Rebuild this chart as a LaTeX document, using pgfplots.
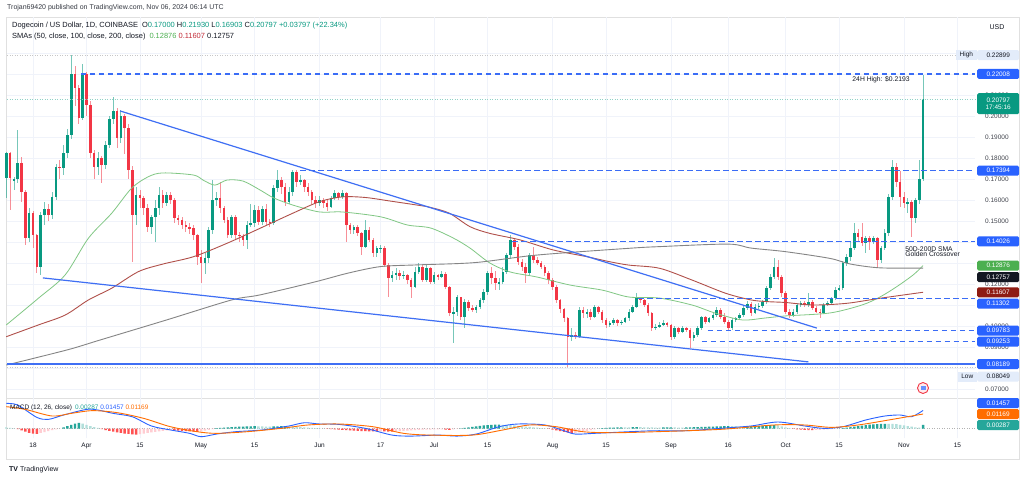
\documentclass[border=0pt]{standalone}
\usepackage{fontspec}
\setmainfont{Liberation Sans}
\usepackage{pgfplots}
\usepackage{pgfplotstable}
\pgfplotsset{compat=1.18}
\definecolor{upc}{HTML}{089981}
\definecolor{dnc}{HTML}{F23645}
\definecolor{smaA}{HTML}{81C784}
\definecolor{smaB}{HTML}{B0504A}
\definecolor{smaC}{HTML}{858585}
\definecolor{boxA}{HTML}{4CAF50}
\definecolor{boxB}{HTML}{8E1B12}
\definecolor{boxC}{HTML}{131722}
\definecolor{tline}{HTML}{3F6FF4}
\definecolor{dline}{HTML}{3A6CF6}
\definecolor{macdb}{HTML}{2962FF}
\definecolor{macdo}{HTML}{FF6D00}
\definecolor{hdg}{HTML}{26A69A}
\definecolor{hlg}{HTML}{B2DFDB}
\definecolor{hdr}{HTML}{FF5252}
\definecolor{hlr}{HTML}{FFCDD2}
\definecolor{tvtext}{HTML}{131722}
\definecolor{gridc}{HTML}{F0F3FA}
\definecolor{pale}{HTML}{E3ECFA}

\pgfplotstableread{
d o h l c hv hc
-7 0.1703 0.1830 0.1608 0.1822 0.0010 2
-6 0.1822 0.1830 0.1552 0.1703 0.0006 2
-5 0.1690 0.1710 0.1650 0.1700 0.0002 2
-4 0.1700 0.1933 0.1680 0.1775 -0.0005 3
-3 0.1775 0.1806 0.1592 0.1640 -0.0015 3
-2 0.1640 0.1650 0.1386 0.1421 -0.0025 3
-1 0.1421 0.1560 0.1400 0.1537 -0.0035 3
0 0.1537 0.1550 0.1370 0.1433 -0.0040 3
1 0.1433 0.1440 0.1251 0.1283 -0.0042 3
2 0.1283 0.1545 0.1243 0.1529 -0.0035 4
3 0.1529 0.1590 0.1480 0.1556 -0.0028 4
4 0.1556 0.1580 0.1500 0.1529 -0.0020 4
5 0.1529 0.1640 0.1510 0.1616 -0.0012 4
6 0.1616 0.1770 0.1600 0.1759 -0.0006 4
7 0.1759 0.1790 0.1700 0.1751 -0.0001 4
8 0.1751 0.1860 0.1720 0.1822 0.0010 1
9 0.1822 0.1940 0.1800 0.1910 0.0020 1
10 0.1910 0.2290 0.1890 0.2198 0.0030 1
11 0.2198 0.2240 0.2050 0.2132 0.0040 1
12 0.2132 0.2150 0.1960 0.1992 0.0045 1
13 0.1992 0.2250 0.1980 0.2198 0.0040 2
14 0.2198 0.2210 0.2000 0.2052 0.0030 2
15 0.2052 0.2070 0.1800 0.1822 0.0020 2
16 0.1822 0.1840 0.1700 0.1759 0.0012 2
17 0.1759 0.1830 0.1720 0.1798 0.0005 2
18 0.1798 0.1810 0.1680 0.1767 -0.0005 3
19 0.1767 0.1880 0.1750 0.1862 -0.0012 3
20 0.1862 0.2000 0.1850 0.1986 -0.0018 3
21 0.1986 0.2092 0.1960 0.2024 -0.0025 3
22 0.2024 0.2040 0.1850 0.1894 -0.0030 3
23 0.1894 0.2030 0.1870 0.2000 -0.0035 3
24 0.2000 0.2010 0.1820 0.1941 -0.0040 3
25 0.1941 0.1960 0.1700 0.1743 -0.0043 3
26 0.1743 0.1760 0.1306 0.1529 -0.0046 3
27 0.1529 0.1660 0.1480 0.1624 -0.0048 3
28 0.1624 0.1650 0.1560 0.1608 -0.0044 4
29 0.1608 0.1620 0.1530 0.1560 -0.0040 4
30 0.1560 0.1580 0.1450 0.1473 -0.0035 4
31 0.1473 0.1530 0.1440 0.1521 -0.0030 4
32 0.1521 0.1600 0.1400 0.1560 -0.0026 4
33 0.1560 0.1660 0.1530 0.1624 -0.0022 4
34 0.1624 0.1650 0.1560 0.1584 -0.0018 4
35 0.1584 0.1640 0.1570 0.1624 -0.0015 4
36 0.1624 0.1640 0.1580 0.1600 -0.0012 4
37 0.1600 0.1610 0.1490 0.1513 -0.0014 3
38 0.1513 0.1530 0.1480 0.1505 -0.0016 3
39 0.1505 0.1520 0.1460 0.1481 -0.0018 3
40 0.1481 0.1500 0.1450 0.1473 -0.0020 3
41 0.1473 0.1490 0.1440 0.1465 -0.0022 3
42 0.1465 0.1480 0.1410 0.1433 -0.0024 3
43 0.1433 0.1440 0.1290 0.1330 -0.0026 3
44 0.1330 0.1360 0.1203 0.1298 -0.0022 4
45 0.1298 0.1350 0.1250 0.1322 -0.0016 4
46 0.1322 0.1470 0.1300 0.1457 -0.0010 4
47 0.1457 0.1695 0.1440 0.1600 -0.0004 4
48 0.1600 0.1640 0.1570 0.1608 0.0003 1
49 0.1608 0.1687 0.1540 0.1560 0.0006 1
50 0.1560 0.1570 0.1490 0.1505 0.0008 1
51 0.1505 0.1520 0.1420 0.1433 0.0010 1
52 0.1433 0.1530 0.1420 0.1521 0.0012 1
53 0.1521 0.1530 0.1410 0.1433 0.0014 1
54 0.1433 0.1450 0.1400 0.1429 0.0015 1
55 0.1429 0.1440 0.1380 0.1410 0.0016 1
56 0.1410 0.1500 0.1365 0.1481 0.0017 1
57 0.1481 0.1580 0.1470 0.1489 0.0018 1
58 0.1489 0.1576 0.1470 0.1553 0.0019 1
59 0.1553 0.1570 0.1480 0.1497 0.0018 2
60 0.1497 0.1570 0.1480 0.1556 0.0017 2
61 0.1556 0.1580 0.1480 0.1497 0.0016 2
62 0.1497 0.1510 0.1470 0.1489 0.0016 2
63 0.1489 0.1670 0.1480 0.1656 0.0017 1
64 0.1656 0.1743 0.1640 0.1695 0.0018 1
65 0.1695 0.1710 0.1630 0.1664 0.0019 1
66 0.1664 0.1680 0.1570 0.1592 0.0020 1
67 0.1592 0.1660 0.1580 0.1640 0.0018 2
68 0.1640 0.1743 0.1620 0.1735 0.0016 2
69 0.1735 0.1743 0.1660 0.1687 0.0014 2
70 0.1687 0.1720 0.1670 0.1695 0.0012 2
71 0.1695 0.1700 0.1640 0.1664 0.0010 2
72 0.1664 0.1680 0.1620 0.1640 0.0008 2
73 0.1640 0.1650 0.1580 0.1600 0.0006 2
74 0.1600 0.1620 0.1560 0.1584 0.0004 2
75 0.1584 0.1620 0.1570 0.1600 0.0002 2
76 0.1600 0.1610 0.1560 0.1584 0.0000 2
77 0.1584 0.1600 0.1550 0.1568 -0.0002 3
78 0.1568 0.1620 0.1560 0.1608 -0.0004 3
79 0.1608 0.1650 0.1600 0.1632 -0.0006 3
80 0.1632 0.1640 0.1600 0.1616 -0.0008 3
81 0.1616 0.1650 0.1605 0.1632 -0.0010 3
82 0.1632 0.1640 0.1402 0.1481 -0.0012 3
83 0.1481 0.1490 0.1440 0.1457 -0.0014 3
84 0.1457 0.1480 0.1440 0.1470 -0.0016 3
85 0.1470 0.1480 0.1430 0.1444 -0.0018 3
86 0.1444 0.1450 0.1338 0.1378 -0.0020 3
87 0.1378 0.1505 0.1370 0.1457 -0.0021 3
88 0.1457 0.1470 0.1400 0.1410 -0.0022 3
89 0.1410 0.1420 0.1330 0.1346 -0.0022 3
90 0.1346 0.1380 0.1330 0.1370 -0.0023 3
91 0.1370 0.1385 0.1350 0.1372 -0.0022 4
92 0.1372 0.1380 0.1280 0.1291 -0.0023 3
93 0.1291 0.1300 0.1140 0.1227 -0.0024 3
94 0.1227 0.1260 0.1210 0.1243 -0.0024 3
95 0.1243 0.1275 0.1220 0.1251 -0.0023 4
96 0.1251 0.1265 0.1220 0.1238 -0.0020 4
97 0.1238 0.1260 0.1225 0.1243 -0.0018 4
98 0.1243 0.1250 0.1200 0.1219 -0.0016 4
99 0.1219 0.1230 0.1132 0.1187 -0.0014 4
100 0.1187 0.1280 0.1180 0.1259 -0.0012 4
101 0.1259 0.1300 0.1250 0.1283 -0.0010 4
102 0.1283 0.1290 0.1210 0.1219 -0.0009 4
103 0.1219 0.1290 0.1210 0.1275 -0.0008 4
104 0.1275 0.1280 0.1200 0.1211 -0.0008 4
105 0.1211 0.1255 0.1200 0.1243 -0.0007 4
106 0.1243 0.1250 0.1220 0.1235 -0.0006 4
107 0.1235 0.1260 0.1230 0.1248 -0.0006 4
108 0.1248 0.1255 0.1175 0.1184 -0.0008 3
109 0.1184 0.1190 0.1050 0.1060 -0.0010 3
110 0.1060 0.1090 0.0918 0.1068 -0.0006 4
111 0.1068 0.1150 0.1050 0.1137 -0.0002 4
112 0.1137 0.1140 0.1030 0.1044 0.0002 1
113 0.1044 0.1130 0.0989 0.1116 0.0006 1
114 0.1116 0.1125 0.1070 0.1084 0.0010 1
115 0.1084 0.1100 0.1065 0.1076 0.0014 1
116 0.1076 0.1100 0.1060 0.1092 0.0018 1
117 0.1092 0.1135 0.1080 0.1124 0.0022 1
118 0.1124 0.1175 0.1110 0.1164 0.0026 1
119 0.1164 0.1260 0.1150 0.1251 0.0028 1
120 0.1251 0.1283 0.1200 0.1227 0.0030 1
121 0.1227 0.1260 0.1170 0.1203 0.0031 1
122 0.1203 0.1230 0.1170 0.1211 0.0031 1
123 0.1211 0.1280 0.1200 0.1259 0.0030 2
124 0.1259 0.1350 0.1250 0.1338 0.0029 2
125 0.1338 0.1433 0.1320 0.1410 0.0028 2
126 0.1410 0.1420 0.1360 0.1378 0.0026 2
127 0.1378 0.1390 0.1290 0.1306 0.0022 2
128 0.1306 0.1320 0.1260 0.1283 0.0018 2
129 0.1283 0.1300 0.1203 0.1251 0.0015 2
130 0.1251 0.1350 0.1240 0.1338 0.0013 2
131 0.1338 0.1378 0.1300 0.1314 0.0010 2
132 0.1314 0.1330 0.1290 0.1302 0.0007 2
133 0.1302 0.1310 0.1270 0.1283 0.0004 2
134 0.1283 0.1290 0.1240 0.1251 0.0001 2
135 0.1251 0.1260 0.1200 0.1219 -0.0003 3
136 0.1219 0.1230 0.1170 0.1187 -0.0008 3
137 0.1187 0.1195 0.1110 0.1124 -0.0014 3
138 0.1124 0.1130 0.1060 0.1079 -0.0020 3
139 0.1079 0.1085 0.1020 0.1037 -0.0026 3
140 0.1037 0.1045 0.0807 0.0949 -0.0032 3
141 0.0949 0.0990 0.0930 0.0957 -0.0038 3
142 0.0957 0.0970 0.0940 0.0949 -0.0036 4
143 0.0949 0.1090 0.0945 0.1076 -0.0030 4
144 0.1076 0.1090 0.1040 0.1060 -0.0024 4
145 0.1060 0.1080 0.1040 0.1068 -0.0018 4
146 0.1068 0.1080 0.1030 0.1045 -0.0012 4
147 0.1045 0.1100 0.1040 0.1089 -0.0006 4
148 0.1089 0.1095 0.1055 0.1068 0.0000 1
149 0.1068 0.1075 0.1015 0.1029 0.0003 1
150 0.1029 0.1040 0.0990 0.1005 0.0005 1
151 0.1005 0.1025 0.0995 0.1013 0.0007 1
152 0.1013 0.1040 0.1005 0.1029 0.0008 1
153 0.1029 0.1035 0.1000 0.1013 0.0009 1
154 0.1013 0.1030 0.1005 0.1021 0.0010 1
155 0.1021 0.1045 0.1015 0.1037 0.0010 2
156 0.1037 0.1080 0.1025 0.1068 0.0010 2
157 0.1068 0.1100 0.1060 0.1092 0.0011 1
158 0.1092 0.1156 0.1085 0.1132 0.0012 1
159 0.1132 0.1140 0.1110 0.1124 0.0011 2
160 0.1124 0.1130 0.1090 0.1100 0.0010 2
161 0.1100 0.1110 0.1050 0.1060 0.0009 2
162 0.1060 0.1065 0.0975 0.0989 0.0009 2
163 0.0989 0.1010 0.0980 0.0997 0.0008 2
164 0.0997 0.1020 0.0990 0.1005 0.0008 2
165 0.1005 0.1030 0.1000 0.1013 0.0009 1
166 0.1013 0.1020 0.0995 0.1005 0.0010 1
167 0.1005 0.1010 0.0935 0.0949 0.0010 1
168 0.0949 0.1000 0.0940 0.0989 0.0009 2
169 0.0989 0.0995 0.0960 0.0973 0.0008 2
170 0.0973 0.1000 0.0965 0.0989 0.0008 2
171 0.0989 0.0995 0.0970 0.0981 0.0009 1
172 0.0981 0.0990 0.0894 0.0941 0.0010 1
173 0.0941 0.0970 0.0930 0.0957 0.0011 1
174 0.0957 0.1000 0.0950 0.0989 0.0012 1
175 0.0989 0.1050 0.0980 0.1041 0.0013 1
176 0.1041 0.1050 0.1010 0.1021 0.0014 1
177 0.1021 0.1045 0.1015 0.1036 0.0015 1
178 0.1036 0.1065 0.1030 0.1052 0.0016 1
179 0.1052 0.1090 0.1045 0.1076 0.0017 1
180 0.1076 0.1085 0.1035 0.1044 0.0018 1
181 0.1044 0.1060 0.1010 0.1021 0.0019 1
182 0.1021 0.1030 0.0980 0.0989 0.0020 1
183 0.0989 0.1040 0.0980 0.1028 0.0020 2
184 0.1028 0.1045 0.1020 0.1036 0.0019 2
185 0.1036 0.1060 0.1030 0.1052 0.0018 2
186 0.1052 0.1095 0.1045 0.1084 0.0018 2
187 0.1084 0.1120 0.1075 0.1105 0.0019 1
188 0.1105 0.1115 0.1050 0.1060 0.0020 1
189 0.1060 0.1105 0.1055 0.1092 0.0021 1
190 0.1092 0.1110 0.1080 0.1095 0.0022 1
191 0.1095 0.1125 0.1085 0.1116 0.0023 1
192 0.1116 0.1190 0.1105 0.1179 0.0025 1
193 0.1179 0.1250 0.1170 0.1235 0.0027 1
194 0.1235 0.1322 0.1225 0.1283 0.0028 1
195 0.1283 0.1315 0.1220 0.1235 0.0025 2
196 0.1235 0.1245 0.1140 0.1156 0.0018 2
197 0.1156 0.1165 0.1055 0.1068 0.0010 2
198 0.1068 0.1080 0.1040 0.1053 0.0004 2
199 0.1053 0.1080 0.1045 0.1068 -0.0002 3
200 0.1068 0.1110 0.1055 0.1100 -0.0006 3
201 0.1100 0.1120 0.1090 0.1108 -0.0009 3
202 0.1108 0.1120 0.1090 0.1100 -0.0011 3
203 0.1100 0.1156 0.1090 0.1116 -0.0012 3
204 0.1116 0.1125 0.1075 0.1084 -0.0012 3
205 0.1084 0.1095 0.1060 0.1068 -0.0011 4
206 0.1068 0.1080 0.1037 0.1061 -0.0010 4
207 0.1061 0.1110 0.1055 0.1100 -0.0008 4
208 0.1100 0.1120 0.1095 0.1108 -0.0006 4
209 0.1108 0.1140 0.1100 0.1132 -0.0004 4
210 0.1132 0.1185 0.1125 0.1172 -0.0002 4
211 0.1172 0.1195 0.1165 0.1180 0.0000 1
212 0.1180 0.1310 0.1170 0.1299 0.0004 1
213 0.1299 0.1345 0.1285 0.1330 0.0008 1
214 0.1330 0.1400 0.1310 0.1370 0.0012 1
215 0.1370 0.1489 0.1360 0.1441 0.0016 1
216 0.1441 0.1460 0.1400 0.1426 0.0020 1
217 0.1426 0.1489 0.1380 0.1394 0.0024 1
218 0.1394 0.1430 0.1350 0.1418 0.0028 1
219 0.1418 0.1430 0.1360 0.1402 0.0031 1
220 0.1402 0.1430 0.1390 0.1418 0.0034 1
221 0.1418 0.1425 0.1283 0.1314 0.0036 1
222 0.1314 0.1380 0.1300 0.1370 0.0037 1
223 0.1370 0.1460 0.1360 0.1441 0.0038 1
224 0.1441 0.1630 0.1430 0.1616 0.0038 2
225 0.1616 0.1791 0.1600 0.1759 0.0037 2
226 0.1759 0.1775 0.1660 0.1687 0.0035 2
227 0.1687 0.1740 0.1568 0.1616 0.0030 2
228 0.1616 0.1640 0.1560 0.1584 0.0025 2
229 0.1584 0.1610 0.1540 0.1592 0.0020 2
230 0.1592 0.1600 0.1426 0.1513 0.0015 2
231 0.1513 0.1610 0.1490 0.1600 0.0010 2
232 0.1600 0.1791 0.1580 0.1700 0.0008 2
233 0.1700 0.2193 0.1690 0.2080 0.0029 1
}\candles

\pgfplotstableread{
d v
-7 0.1005
1.4 0.1132
8.4 0.1243
14.5 0.1418
20.6 0.1537
25.8 0.1656
30.2 0.1711
34 0.1729
42 0.1719
44.5 0.1695
47.6 0.1671
50.8 0.1695
55 0.1690
59.4 0.1648
63 0.1610
68 0.1576
75 0.1543
81 0.1543
91 0.1520
98 0.1481
104 0.1467
110 0.1419
114.4 0.1371
119.6 0.1300
125 0.1257
132 0.1233
140.6 0.1195
149 0.1171
156 0.1138
164 0.1133
172.5 0.1100
178.5 0.1062
185.6 0.1029
191.6 0.1038
197 0.1048
208.6 0.1062
217 0.1100
221.7 0.1138
226 0.1186
230.4 0.1243
233 0.12876
}\smaA

\pgfplotstableread{
d v
-7 0.0949
1.4 0.1005
8.4 0.1052
14.5 0.1124
20.6 0.1180
27.6 0.1259
34 0.1295
42 0.1330
50.8 0.1394
59.4 0.1465
68 0.1537
75 0.1592
81 0.1615
87 0.1612
93.5 0.1595
100.5 0.1576
104 0.1565
109 0.1537
114.4 0.1473
119.6 0.1441
127.5 0.1410
136.2 0.1362
145 0.1330
151 0.1306
156 0.1290
164 0.1275
172.5 0.1219
181.3 0.1156
188 0.1124
192.3 0.1116
197 0.1112
204.2 0.1100
213 0.1108
221.7 0.1132
233 0.11607
}\smaB

\pgfplotstableread{
d v
-7 0.0814
8.9 0.0886
17.5 0.0933
35 0.1029
52 0.1124
59.4 0.1148
73.8 0.1210
82.5 0.1252
91 0.1283
100.5 0.1291
115.7 0.1302
132 0.1338
156 0.1370
164 0.1378
182 0.1390
188 0.1371
197 0.1354
208.6 0.1322
214 0.1295
221.7 0.1277
233 0.12757
}\smaC

\pgfplotstableread{
d v
-7 0.0202
-4 0.0189
1 0.0090
4 0.0074
8 0.0109
14 0.0154
17 0.0149
21 0.0122
26 0.0095
31 0.0021
36 -0.0011
41 -0.0038
44 -0.0065
48 -0.0044
53 -0.0025
60 -0.0011
67 0.0021
71 0.0047
75 0.0037
80 0.0034
87 0.0002
94 -0.0052
99 -0.0060
106 -0.0052
111 -0.0060
116 -0.0044
122 0.0015
127 0.0037
134 0.0029
139 -0.0017
142 -0.0044
147 -0.0038
156 -0.0025
163 -0.0017
171 -0.0017
180 0.0002
188 0.0021
195 0.0053
202 0.0021
207 0.0002
212 0.0015
218 0.0069
223 0.0101
227 0.0109
230 0.0095
233 0.01457
}\macdM

\pgfplotstableread{
d v
-7 0.0176
-2 0.0154
5 0.0101
10 0.0122
15.5 0.0144
22 0.0128
29 0.0082
36 0.0015
43 -0.0025
48 -0.0038
56 -0.0025
65 0.0002
72 0.0029
80 0.0037
89 0.0015
97 -0.0038
104 -0.0052
115 -0.0052
123 -0.0011
130 0.0029
137 0.0015
144 -0.0025
152 -0.0033
163 -0.0025
180 -0.0006
194 0.0029
202 0.0029
209 0.0010
216 0.0029
224 0.0069
233 0.01169
}\macdS

\newcommand{\fs}[1]{\fontsize{#1}{#1}\selectfont}

\begin{document}
\begin{tikzpicture}[x=1bp,y=1bp]
\useasboundingbox (0bp,0bp) rectangle (1024bp,-482bp);
\fill[white] (0bp,0bp) rectangle (1024bp,-482bp);
\draw[draw=black!12, line width=0.6bp] (6bp,-17bp) rectangle (1019bp,-459bp);
\draw[draw=black!12, line width=0.6bp] (6bp,-398bp) -- (1019bp,-398bp);

% ---------------- price pane ----------------
\begin{axis}[
  at={(7bp,-398bp)}, anchor=south west, scale only axis,
  width=968bp, height=381bp,
  xmin=-6.81, xmax=246.6, ymin=0.065714, ymax=0.247143,
  axis line style={draw=none}, tick style={draw=none},
  clip=false,
  xtick={0,14,28,44,58,75,91,105,119,136,150,167,182,197,211,228,242},
  xticklabels={},
  ytick={0.07,0.08,0.09,0.10,0.11,0.12,0.13,0.14,0.15,0.16,0.17,0.18,0.19,0.20,0.21,0.22,0.23},
  yticklabels={0.07000,,0.09000,0.10000,,0.12000,,,0.15000,0.16000,0.17000,0.18000,0.19000,0.20000,0.21000,,},
  grid=major, major grid style={draw=gridc, line width=0.6bp},
  yticklabel pos=right,
  yticklabel style={anchor=west, inner sep=0pt, xshift=10bp, font=\fs{6.5}, text=tvtext!80},
]
% wicks
\addplot[draw=none, forget plot, restrict y to domain=0:1,
  error bars/.cd, y dir=both, y explicit, error mark=none,
  error bar style={draw=upc, draw opacity=0.55, line width=0.8bp}]
  table[x=d, y expr={(\thisrow{c}>=\thisrow{o}) ? 0.5*(\thisrow{h}+\thisrow{l}) : -1},
        y error expr={0.5*(\thisrow{h}-\thisrow{l})}] {\candles};
\addplot[draw=none, forget plot, restrict y to domain=0:1,
  error bars/.cd, y dir=both, y explicit, error mark=none,
  error bar style={draw=dnc, draw opacity=0.55, line width=0.8bp}]
  table[x=d, y expr={(\thisrow{c}<\thisrow{o}) ? 0.5*(\thisrow{h}+\thisrow{l}) : -1},
        y error expr={0.5*(\thisrow{h}-\thisrow{l})}] {\candles};
% bodies
\addplot[draw=none, forget plot, restrict y to domain=0:1,
  error bars/.cd, y dir=both, y explicit, error mark=none,
  error bar style={draw=upc, line width=2.6bp}]
  table[x=d, y expr={(\thisrow{c}>=\thisrow{o}) ? 0.5*(\thisrow{o}+\thisrow{c}) : -1},
        y error expr={max(0.5*abs(\thisrow{c}-\thisrow{o}),0.00012)}] {\candles};
\addplot[draw=none, forget plot, restrict y to domain=0:1,
  error bars/.cd, y dir=both, y explicit, error mark=none,
  error bar style={draw=dnc, line width=2.6bp}]
  table[x=d, y expr={(\thisrow{c}<\thisrow{o}) ? 0.5*(\thisrow{o}+\thisrow{c}) : -1},
        y error expr={max(0.5*abs(\thisrow{c}-\thisrow{o}),0.00012)}] {\candles};
% SMAs
\addplot[smaA, line width=0.8bp, smooth, tension=0.5] table[x=d,y=v] {\smaA};
\addplot[smaB, line width=0.9bp, smooth, tension=0.5] table[x=d,y=v] {\smaB};
\addplot[smaC, line width=0.9bp, smooth, tension=0.5] table[x=d,y=v] {\smaC};
% reference lines
\addplot[black!22, line width=0.4bp, dash pattern=on 1bp off 1.5bp] coordinates {(-6.81,0.22899) (246.6,0.22899)};
\addplot[upc!45, line width=0.4bp, dash pattern=on 1bp off 1.5bp] coordinates {(-6.81,0.20797) (246.6,0.20797)};
\addplot[black!22, line width=0.4bp, dash pattern=on 1bp off 1.5bp] coordinates {(-6.81,0.08049) (246.6,0.08049)};
% trendlines
\addplot[tline, line width=1.2bp] coordinates {(22.8,0.2024) (205.2,0.0990)};
\addplot[tline, line width=1.2bp] coordinates {(2.6,0.1229) (203.0,0.0829)};
\addplot[tline, line width=1.2bp] coordinates {(-6.81,0.08189) (246.6,0.08189)};
% dashed levels
\addplot[dline, line width=1.4bp, dash pattern=on 5.5bp off 3.5bp] coordinates {(12.5,0.22008) (246.6,0.22008)};
\addplot[dline, line width=1.4bp, dash pattern=on 5.5bp off 3.5bp] coordinates {(70,0.17394) (246.6,0.17394)};
\addplot[dline, line width=1.4bp, dash pattern=on 5.5bp off 3.5bp] coordinates {(125.5,0.14026) (246.6,0.14026)};
\addplot[dline, line width=1.4bp, dash pattern=on 5.5bp off 3.5bp] coordinates {(158.4,0.11302) (246.6,0.11302)};
\addplot[dline, line width=1.4bp, dash pattern=on 5.5bp off 3.5bp] coordinates {(176.7,0.09783) (246.6,0.09783)};
\addplot[dline, line width=1.4bp, dash pattern=on 5.5bp off 3.5bp] coordinates {(175,0.09253) (246.6,0.09253)};
% annotations
\node[font=\fs{6.8}, text=tvtext, inner sep=0] at (axis cs:222,0.2175) {24H High: \$0.2193};
\node[font=\fs{6.8}, text=tvtext, inner sep=0, anchor=west, align=left] at (axis cs:228.3,0.1355) {50D-200D SMA\\[-1.5bp]Golden Crossover};
% right price boxes
\tikzset{pbox/.style={anchor=west, xshift=2bp, inner sep=0pt, minimum width=42bp, minimum height=10bp, rounded corners=1.5bp, font=\fs{6.5}, text=white}}
\node[pbox, fill=pale, text=tvtext] at (axis cs:246.6,0.22899) {0.22899};
\node[anchor=east, xshift=2bp, inner sep=0pt, minimum width=21bp, minimum height=10bp, fill=pale, font=\fs{6.5}, text=tvtext] at (axis cs:246.6,0.22899) {High};
\node[pbox, fill=macdb] at (axis cs:246.6,0.22008) {0.22008};
\node[pbox, fill=upc, minimum height=21bp, align=center, anchor=north west] at (axis cs:246.6,0.21100) {0.20797\\[1bp]17:45:16};
\node[pbox, fill=macdb] at (axis cs:246.6,0.17394) {0.17394};
\node[pbox, fill=macdb] at (axis cs:246.6,0.14026) {0.14026};
\node[pbox, fill=boxA] at (axis cs:246.6,0.12876) {0.12876};
\node[pbox, fill=boxC] at (axis cs:246.6,0.12330) {0.12757};
\node[pbox, fill=boxB] at (axis cs:246.6,0.11607) {0.11607};
\node[pbox, fill=macdb] at (axis cs:246.6,0.11060) {0.11302};
\node[pbox, fill=macdb] at (axis cs:246.6,0.09783) {0.09783};
\node[pbox, fill=macdb] at (axis cs:246.6,0.09253) {0.09253};
\node[pbox, fill=macdb] at (axis cs:246.6,0.08189) {0.08189};
\node[pbox, fill=pale, text=tvtext] at (axis cs:246.6,0.07590) {0.08049};
\node[anchor=east, xshift=2bp, inner sep=0pt, minimum width=19bp, minimum height=10bp, fill=pale, font=\fs{6.5}, text=tvtext] at (axis cs:246.6,0.07590) {Low};
\end{axis}

% ---------------- MACD pane ----------------
\begin{axis}[
  at={(7bp,-438bp)}, anchor=south west, scale only axis,
  width=968bp, height=40bp,
  xmin=-6.81, xmax=246.6, ymin=-0.00754, ymax=0.02454,
  axis line style={draw=none}, tick style={draw=none},
  clip=false,
  xtick={0,14,28,44,58,75,91,105,119,136,150,167,182,197,211,228,242},
  xticklabels={18,Apr,15,May,15,Jun,17,Jul,15,Aug,15,Sep,16,Oct,15,Nov,15},
  xticklabel style={font=\fs{6.5}, text=tvtext, inner sep=0pt, yshift=-4.5bp},
  ytick=\empty,
  xmajorgrids, major grid style={draw=gridc, line width=0.6bp},
]
\addplot[black!30, line width=0.5bp, dash pattern=on 1bp off 1.5bp] coordinates {(-6.81,0) (246.6,0)};
\addplot[ybar, bar width=2.4bp, bar shift=0pt, fill=hdg, draw=none, restrict y to domain=-0.05:0.05]
  table[x=d, y expr={(\thisrow{hc}==1) ? \thisrow{hv} : 1}] {\candles};
\addplot[ybar, bar width=2.4bp, bar shift=0pt, fill=hlg, draw=none, restrict y to domain=-0.05:0.05]
  table[x=d, y expr={(\thisrow{hc}==2) ? \thisrow{hv} : 1}] {\candles};
\addplot[ybar, bar width=2.4bp, bar shift=0pt, fill=hdr, draw=none, restrict y to domain=-0.05:0.05]
  table[x=d, y expr={(\thisrow{hc}==3) ? \thisrow{hv} : 1}] {\candles};
\addplot[ybar, bar width=2.4bp, bar shift=0pt, fill=hlr, draw=none, restrict y to domain=-0.05:0.05]
  table[x=d, y expr={(\thisrow{hc}==4) ? \thisrow{hv} : 1}] {\candles};
\addplot[macdb, line width=0.9bp, smooth, tension=0.5] table[x=d,y=v] {\macdM};
\addplot[macdo, line width=0.9bp, smooth, tension=0.5] table[x=d,y=v] {\macdS};
\tikzset{mbox/.style={anchor=west, xshift=2bp, inner sep=0pt, minimum width=42bp, minimum height=10bp, rounded corners=1.5bp, font=\fs{6.5}, text=white}}
\node[mbox, fill=macdb] at (axis cs:246.6,0.0205) {0.01457};
\node[mbox, fill=macdo] at (axis cs:246.6,0.01169) {0.01169};
\node[mbox, fill=hdg] at (axis cs:246.6,0.00287) {0.00287};
\end{axis}

% ---------------- texts ----------------
\node[anchor=west, inner sep=0, font=\fs{7}, text=tvtext!85] at (7bp,-8bp) {Trojan69420 published on TradingView.com, Nov 06, 2024 06:14 UTC};
\node[anchor=west, inner sep=0, font=\fs{7.5}, text=tvtext] at (12bp,-26bp) {Dogecoin / US Dollar, 1D, COINBASE\hspace{4bp}O\textcolor{upc}{0.17000} H\textcolor{upc}{0.21930} L\textcolor{upc}{0.16903} C\textcolor{upc}{0.20797} \textcolor{upc}{+0.03797 (+22.34\%)}};
\node[anchor=west, inner sep=0, font=\fs{7.5}, text=tvtext] at (12bp,-37bp) {SMAs (50, close, 100, close, 200, close)\hspace{4bp}\textcolor{boxA}{0.12876} \textcolor{dnc!80!black}{0.11607} 0.12757};
\node[anchor=west, inner sep=0, font=\fs{6.5}, text=tvtext] at (10bp,-408bp) {MACD (12, 26, close)\hspace{3bp}\textcolor{hdg}{0.00287} \textcolor{macdb}{0.01457} \textcolor{macdo}{0.01169}};
\node[inner sep=0, font=\fs{7}, text=tvtext] at (997bp,-27bp) {USD};
\node[anchor=west, inner sep=0, font=\fs{7}, text=tvtext] at (9bp,-470bp) {\textbf{TV}\hspace{2bp}TradingView};
% news icon
\draw[dnc, line width=0.9bp, fill=hlr!40] (923bp,-388bp) circle (5.5bp);
\fill[macdb!70] (920.5bp,-390bp) rectangle (925.5bp,-386bp);
\end{tikzpicture}
\end{document}
